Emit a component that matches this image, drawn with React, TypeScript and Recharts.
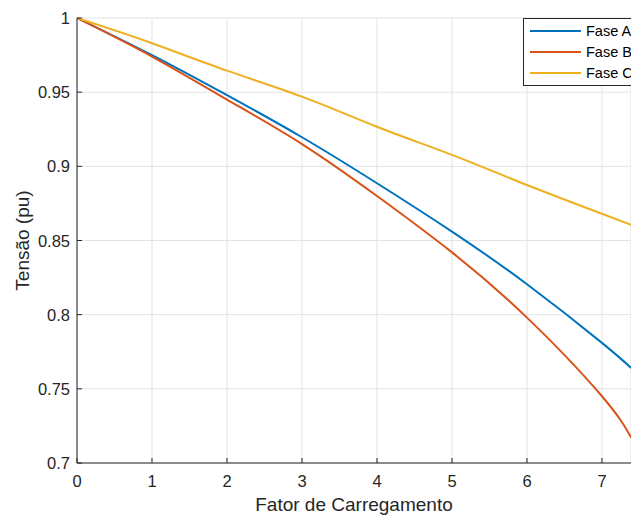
import React from "react";
import { LineChart, Line, XAxis, YAxis, CartesianGrid } from "recharts";

const xValues = [0, 1, 2, 3, 4, 5, 6, 7, 7.39];
const faseA = [1, 0.975, 0.948, 0.9196, 0.8886, 0.856, 0.8205, 0.781, 0.764];
const faseB = [1, 0.974, 0.945, 0.915, 0.880, 0.842, 0.798, 0.745, 0.717];
const faseC = [1, 0.983, 0.9645, 0.947, 0.9267, 0.9077, 0.8874, 0.868, 0.8605];
const xTicks = [0, 1, 2, 3, 4, 5, 6, 7];
const yTicks = [0.7, 0.75, 0.8, 0.85, 0.9, 0.95, 1];
const seriesNames = ["Fase A", "Fase B", "Fase C"];
const colors = ["#0072BD", "#D95319", "#EDB120"];

const data = xValues.map((x, i) => ({ x, a: faseA[i], b: faseB[i], c: faseC[i] }));

const FONT = "'Liberation Sans', Arial, Helvetica, sans-serif";
const AXIS = "#262626";

const BottomTick = (props: any) => {
  const { x, y, payload } = props;
  return (
    <g>
      <line x1={x} x2={x} y1={y} y2={y - 5} stroke={AXIS} strokeWidth={1} />
      <text x={x} y={y + 24} textAnchor="middle" fontSize={16.5} fontFamily={FONT} fill={AXIS}>
        {payload.value}
      </text>
    </g>
  );
};

const TopTick = (props: any) => {
  const { x, y } = props;
  return <line x1={x} x2={x} y1={y} y2={y + 5} stroke={AXIS} strokeWidth={1} />;
};

const LeftTick = (props: any) => {
  const { x, y, payload } = props;
  const label = String(Number(Number(payload.value).toFixed(2)));
  return (
    <g>
      <line x1={x} x2={x + 5} y1={y} y2={y} stroke={AXIS} strokeWidth={1} />
      <text x={x - 7} y={y + 6} textAnchor="end" fontSize={16.5} fontFamily={FONT} fill={AXIS}>
        {label}
      </text>
    </g>
  );
};

export default function App() {
  return (
    <div style={{ position: "absolute", left: 0, top: 0, width: 631, height: 516, background: "#fff", overflow: "hidden" }}>
      <LineChart width={631} height={516} data={data} margin={{ top: 18, right: 0, bottom: 0, left: 0 }}>
        <CartesianGrid stroke="#e3e3e3" strokeWidth={1} vertical horizontal />
        <XAxis
          dataKey="x"
          type="number"
          domain={[0, 7.387]}
          ticks={xTicks}
          allowDataOverflow
          height={53}
          tickSize={0}
          tickMargin={0}
          tickLine={false}
          tick={<BottomTick />}
          stroke={AXIS}
          interval={0}
          label={{ value: "Fator de Carregamento", position: "insideBottom", offset: 5, fontSize: 19, fontFamily: FONT, fill: AXIS }}
        />
        <XAxis
          xAxisId="top"
          orientation="top"
          dataKey="x"
          type="number"
          domain={[0, 7.387]}
          ticks={xTicks}
          allowDataOverflow
          height={0}
          tickSize={0}
          tickMargin={0}
          tickLine={false}
          tick={<TopTick />}
          stroke={AXIS}
          interval={0}
        />
        <YAxis
          type="number"
          domain={[0.7, 1]}
          ticks={yTicks}
          width={77}
          tickSize={0}
          tickMargin={0}
          tickLine={false}
          tick={<LeftTick />}
          stroke={AXIS}
          interval={0}
          label={{ value: "Tensão (pu)", angle: -90, position: "insideLeft", offset: 22, style: { textAnchor: "middle" }, fontSize: 19, fontFamily: FONT, fill: AXIS }}
        />
        <Line type="natural" dataKey="a" stroke={colors[0]} strokeWidth={2} dot={false} isAnimationActive={false} />
        <Line type="natural" dataKey="b" stroke={colors[1]} strokeWidth={2} dot={false} isAnimationActive={false} />
        <Line type="natural" dataKey="c" stroke={colors[2]} strokeWidth={2} dot={false} isAnimationActive={false} />
      </LineChart>
      <div
        style={{
          position: "absolute",
          left: 523,
          top: 18,
          width: 140,
          height: 68,
          border: `1px solid ${AXIS}`,
          background: "#fff",
          boxSizing: "border-box",
          fontFamily: FONT,
          fontSize: 14.5,
          color: "#000",
        }}
      >
        {seriesNames.map((name, i) => (
          <div key={name} style={{ position: "absolute", left: 0, top: 2 + i * 21, height: 20, display: "flex", alignItems: "center" }}>
            <div style={{ marginLeft: 6, width: 51, height: 2, background: colors[i] }} />
            <span style={{ marginLeft: 5, whiteSpace: "nowrap" }}>{name}</span>
          </div>
        ))}
      </div>
    </div>
  );
}
